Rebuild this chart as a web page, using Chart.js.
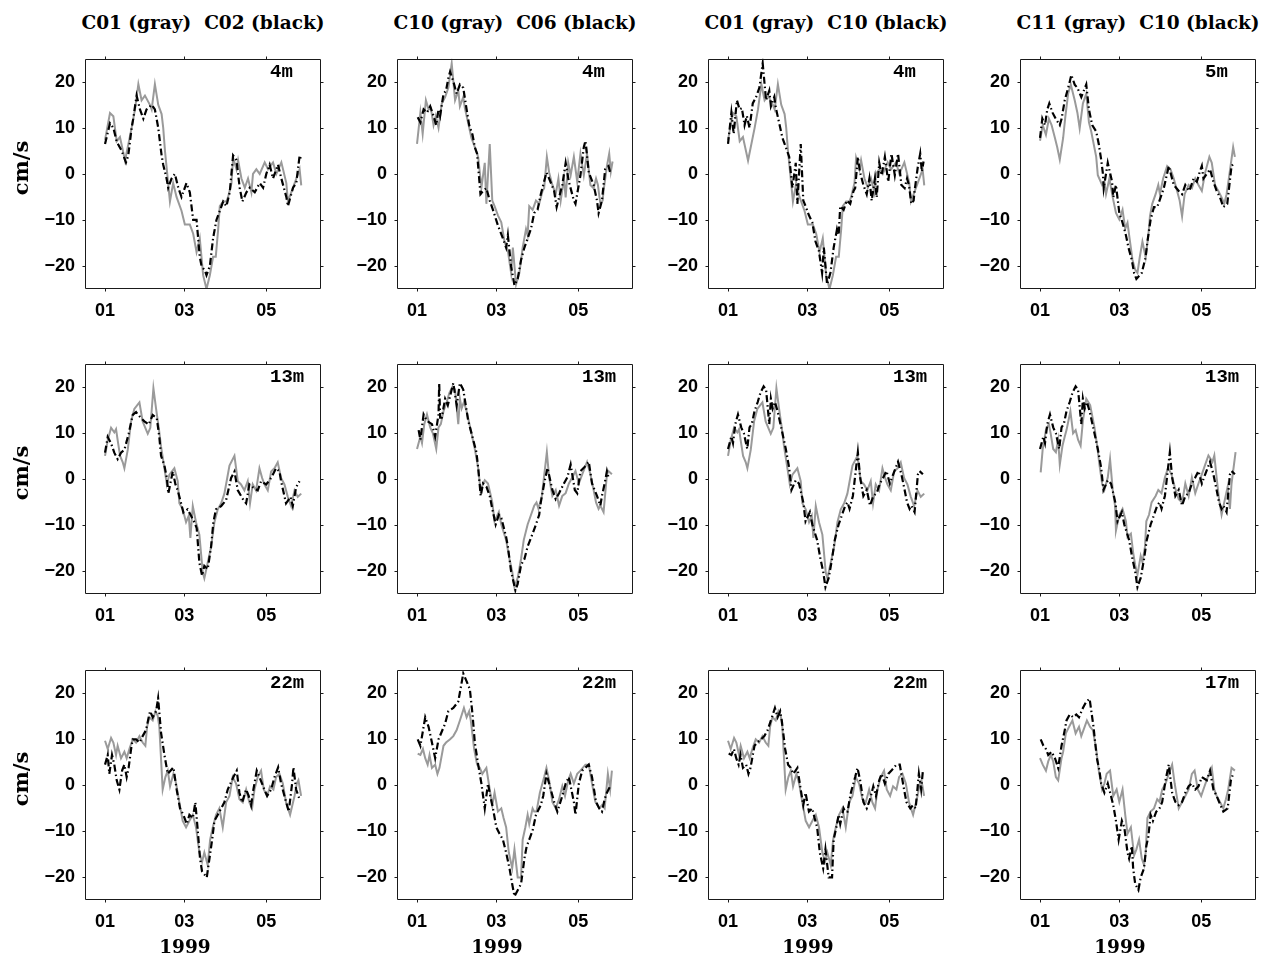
<!DOCTYPE html>
<html>
<head>
<meta charset="utf-8">
<script src="https://cdn.jsdelivr.net/npm/chart.js@4.4.1/dist/chart.umd.min.js"></script>
<style>
  html, body { margin: 0; padding: 0; background: #fff; }
  #page { position: relative; width: 1269px; height: 958px; overflow: hidden; background: #fff; }
  #page canvas { position: absolute; }
  .title { position: absolute; font: bold 18.5px "DejaVu Serif", serif; white-space: pre; transform: translate(-50%, -50%); color: #000; }
  .unit { position: absolute; font: bold 21px "DejaVu Serif", serif; transform: translate(-50%, -50%) rotate(-90deg); color: #000; white-space: pre; }
  .depth { position: absolute; font: bold 19px "Liberation Mono", "Courier New", monospace; transform: translateY(-50%); color: #000; }
  .year { position: absolute; font: bold 18.5px "DejaVu Serif", serif; transform: translate(-50%, -50%); color: #000; }
</style>
</head>
<body>
<div id="page"></div>
<script>
// Month ticks on the time axis (days after 1 Jan 1999)
const MONTH_TICKS = [0, 59, 120];
const MONTH_LABELS = ['01', '03', '05'];
// Velocity ticks (cm/s)
const Y_TICKS = [-20, -10, 0, 10, 20];

// Along-shore velocity records: sample day (after 1 Jan 1999) and value in cm/s
// ---- 4-5 m ----
const c01_4m_day = [0,3.7,6.2,8.7,11.1,14.9,19.8,22.3,24.8,27.2,29.7,33.4,34.7,37.1,39.6,42.1,43.3,44.6,46.3,48.3,50.7,53.2,56.9,59.4,63.1,65.6,68.1,70.5,73,75.5,78,80.4,82.4,84.2,85.4,87.9,90.3,91.6,94.1,95.3,97.8,99,101.5,104,106.4,108.9,110.1,112.6,115.1,118.8,121.3,125,127.5,131.2,134.9,136.1,138.6,141.1,143.6,144.8,146];
const c01_4m     = [7.4,13.2,12.5,7.1,8,2.9,10,14,19.5,16,17,15,14,19.5,15,13,10,5,0,-6,-2,-5,-8,-11,-11,-13,-17,-14,-22,-25,-22,-18,-18,-12,-7,-6,-6,-5,-2,3.5,1,3,-1,-3,-1,-4,0,1,0,2.5,1,2.5,0,2.5,-2,-6,-4,-2,0,1,-2.5];

const c02_4m_day = [0,3.7,6.2,8.7,12.4,15.6,17.3,19.8,21,23.5,26,28.5,30.9,34.7,37.1,39.6,42.1,43.3,45.8,47,49.5,52,54.5,56.9,60.6,63.1,65.6,68.1,70.5,71.8,74.3,75.5,78,80.4,82.9,85.4,87.9,90.3,92.8,95.3,97.8,100.2,102.2,105.2,107.7,111.4,115.1,117.6,120,122.5,125,128.7,131.2,134.9,136.1,139.9,142.3,144.8,146];
const c02_4m     = [6.5,11,10,7,5,2.5,4,10,12,17,14,12,14,15,14,10,4,2,-1,-3,-1,0,-3,-5,-2,-4,-10,-10,-18,-20,-21,-22,-20,-14,-10,-8,-6,-7,-4,4,3,-3,-6,-4,-3,-4,-2,-3,0,2,-1,2,-1,-5,-7,-3,-2,4,3];

const c10_4m_day = [0,2.5,4.2,6.6,8.6,10.3,12.3,14,16,18.4,20.9,23.3,25.8,28.3,30.7,31.9,34.4,35.6,38.1,40.5,43,45.5,47.9,50.4,51.6,54.1,56,57.7,60.2,62.7,65.1,67.6,70,71.3,73.7,76.2,78.6,81.1,82.3,83.5,86,88.5,90.9,93.4,94.6,96.6,98.3,100.7,103.2,105.2,106.9,109.3,110.6,112.5,114.3,116.7,119.2,121.6,124.1,126.5,129,131.4,133.2,134.6,136.4,138.1,138.8,141.3,143,144.2,145.5];
const c10_4m     = [6.5,13.3,8.7,16,14,14.3,10.6,12.6,10,15.3,16.7,18.7,24,16,18.1,14.7,16.7,14.3,11,7.8,5.8,3.7,-3,2.4,-6.5,6.5,-5.8,-7,-9,-10.5,-14.7,-16.7,-21.5,-16,-24,-21.5,-16,-12,-13.3,-7,-7.8,-5.8,-6.5,-3.7,-3.1,3.7,0.3,-2.4,-4.4,-1,-5.8,-1,-5.1,2.4,-0.3,3.7,-1.7,4.4,-0.3,4.4,-2.4,-3.1,-1,-2.4,-6.5,-5.8,-3.7,1.7,4.4,0.5,2.7];

const c06_4m_day = [0.5,2.5,4.9,7.4,9.8,12.3,14.3,16,17.2,19.7,21.6,23.3,24.6,27,29.5,31.9,34.4,36.9,38.8,41.3,43,44.7,47.2,49.1,51.6,54.1,56.5,60.2,63.9,66.3,67.6,70,72.5,74.9,77.4,79.9,82.3,84.8,87.2,89.7,92.1,93.9,96.3,98.3,102,103.9,105.7,108.1,110.6,113,116.7,117.9,121.6,124.1,125.3,127.8,131.4,133.9,135.1,137.6,138.8,140,142.5,143.7];
const c06_4m     = [12.3,11.2,14,13.3,14.7,12.6,10.6,14,12.6,17.4,18.1,20.8,22.2,20.1,17.4,19.4,18.7,14,10.6,8.5,5.8,4.4,-4.4,-3.7,-3.1,-5.8,-7.8,-11.2,-14,-16,-13.3,-20.1,-24.2,-22.8,-18.7,-16,-14,-11.9,-8.5,-7.8,-4.4,-2.4,0.3,-1,-3.7,-7.2,-5.1,-2.4,2.4,-1.7,-5.8,-6.5,-0.3,5.8,7.2,0.3,-2.4,-5.8,-8.5,-5.8,-2.4,1,1.7,0.3];

const c11_5m_day = [0,2,4.4,6.6,8.6,11.1,12.8,14.7,17.2,18.9,20.9,22.9,25.8,27.8,29.5,31.9,34.4,36.4,38.1,41.8,43,46.2,47.9,49.1,51.6,54.1,56.5,59,61.4,63.4,65.1,66.3,68.8,70.8,72.5,74.2,76.2,78.6,80.6,81.8,83.5,86,88,89.2,91.6,94.6,97.1,99.5,102,103.9,105.7,107.6,110.6,113,115.5,117.9,120.4,122.9,126,127.8,130.2,132.7,135.1,137.1,138.8,140.5,143.7,145];
const c11_5m     = [7.2,10.6,8.5,12,10.6,7.8,5.8,3.1,7.8,12.6,17.4,19.4,16,13.3,9.9,15.3,17.4,11.2,9.2,3.7,-0.3,-2.4,-1.7,-4.4,-1,-5.1,-8.5,-9.9,-7.8,-11.9,-10.6,-13.3,-18.7,-20.8,-21.5,-18.1,-14.7,-18.1,-13.3,-9.2,-6.5,-4.4,-2.4,-4.4,-1,1.7,1,-1,-3.7,-5.8,-9.2,-4.4,-2.4,-3.1,-1,-2.4,-3.7,0.3,3.7,2.4,-2.4,-3.7,-5.1,-6.5,-4.4,-1,5.8,3.7];

const c10_5m_day = [0,1.7,3.7,5.4,6.9,9.3,11.8,14.7,16,18.4,21.6,23.3,25.8,27.8,30.7,34.4,36.4,38.8,41.8,43.7,45.5,46.7,47.4,50.4,53.6,54.5,56.5,59,61.4,63.9,65.8,68.3,70,71.7,75.7,78.6,79.9,82.3,84.8,87.2,88.9,92.1,95.8,99.5,103.2,105.7,108.1,111.1,114.3,116.7,118.7,120.4,121.6,124.8,126.5,129,131.4,133.9,136.4,139.3,142.5,144.5];
const c10_5m     = [7.8,12,10.6,14,15.3,13.3,11.9,10.6,11.9,16,19.4,21.5,19.4,18.7,16.7,19.4,14,10.6,9.2,6.5,3.1,0.3,-3.1,2.4,-1.7,-5.1,-2.4,-8.5,-10.6,-13.3,-16,-18.7,-21.5,-22.8,-21.5,-18.1,-14.7,-9.9,-7.2,-7.2,-5.8,-3.1,1.7,-2.4,-3.7,-4.4,-2.4,-3.7,-1,-1.7,0.3,1.7,-1,0.3,1,-1.7,-3.7,-5.1,-7.2,-6.5,1.7,2.4];

// ---- 13 m ----
const c01_13m_day = [0,2,4.5,6.9,8.2,9.4,11.2,13.2,14.4,16.9,19.4,21.8,25.6,28,31.8,33.7,36,38,40,41.7,44.2,46,47.9,51.6,54.1,55.3,57.8,60.3,62.3,63.5,65.3,67.7,70.2,72.7,73.9,76.4,78.9,81.4,83.9,86.4,88.8,92.6,96.3,98.8,101.2,103.7,106.2,107.9,109.9,112.4,114.9,116.9,118.6,121.1,123.6,126.1,128.5,131,133.5,136,138.5,141,143.4,146];
const c01_13m     = [5,8.4,11.1,10.1,10.8,8.4,5,3.6,2.3,6.3,12.5,15.2,16.6,12.5,9.8,11.1,19.7,15.2,11.1,7,2.3,-1.2,0.9,2.3,-0.5,-5.3,-6.6,-9.4,-8,-12.8,-5.9,-9.4,-12.1,-20.3,-21.6,-18.2,-14.8,-9.4,-6.6,-5.3,-3.2,2.9,5,-0.5,-1.2,-2.5,-0.5,-5.3,-1.2,-2.5,2.3,0.2,-1.2,-2.5,1.6,2.3,3.6,0.2,-1.2,-3.9,-5.9,-2.5,-3.9,-3.2];

const c02_13m_day = [0,2,4.5,6.9,9.4,11.9,14.4,17.6,20.6,23.1,26.8,29.3,32.5,35.5,38.5,40.4,41.7,44.2,46,47.1,50.4,52.4,54.1,56.6,58.3,61.5,64,66.5,68.2,70.2,72.2,73.9,76.4,78.9,80.6,82.6,86.4,90.1,93.8,96.3,98.8,103,105,107.4,109.9,113.6,116.1,119.9,123.6,127.3,129.8,131,134.7,138,139.7,142.2,144.7];
const c02_13m     = [5.7,9.1,7.7,5.7,4.3,5.7,6.3,9.8,13.9,14.5,13.2,12.5,11.8,13.9,13.2,9.1,5,2.9,0.2,-3.2,1.6,-1.2,-2.5,-5.3,-7.3,-6.6,-8,-9.4,-10.7,-18.2,-21,-18.9,-19.6,-14.8,-9.4,-6.6,-5.9,-4.6,0.2,1.6,-2.5,-4.6,-5.3,-1.2,-1.8,-2.5,-0.5,-1.2,0.2,2.3,1.6,-0.5,-5.3,-3.9,-5.9,-1.8,-0.5];

const c10_13m_day = [0,2.5,3.7,5.4,7.4,9.8,11.8,14.3,16,17.7,19.7,22.1,24.1,26.5,28.3,30.7,31.9,33.2,34.9,36.9,40.5,43,45.5,47.2,50.4,52.8,54.5,56,57.7,60.9,62.7,66.3,68.8,70.8,72.5,74.9,77.4,79.4,82.3,84,87.2,88.9,90.4,92.9,96.6,98.3,100.7,103.2,105.7,108.1,110.6,113,115.5,117.9,120.4,122.9,126.5,129,131.4,133.2,135.1,136.4,138.8,141.3,142.5,145];
const c10_13m     = [6.5,9.2,7.8,11.9,14,11.2,9.9,6.5,11.2,11.9,14.7,16.7,18.7,20.1,19.4,11.9,17.4,15.3,16.7,14.7,9.9,6.5,2.4,-2.4,-0.3,-1,-3.1,-5.1,-9.2,-7.2,-9.9,-13.3,-17.4,-20.1,-23.5,-21.5,-17.4,-13.3,-9.9,-8.5,-5.8,-5.1,-6.5,-3.7,5.8,0.3,-3.7,-2.4,-5.8,-3.7,-3.1,-1,0.3,1.7,-1,1,3.7,1,-2.4,-5.1,-6.5,-5.8,-7.2,1,1.7,1];

const c06_13m_day = [1.2,2.5,4.9,7.4,11.1,12.3,13.5,16,16.5,17.2,18.4,20.9,22.9,27,29.5,31.9,34.4,38.1,41.8,44.2,45.5,47.4,49.1,51.6,54.1,56,58.5,60.9,62.7,66.3,67.6,70,73.2,74.9,77.4,79.9,82.3,86,88.5,90.9,92.1,94.6,97.1,100.7,103.2,105.7,109.3,111.8,114.3,117.4,119.2,121.6,124.1,127.8,130.2,133.9,136.4,137.6,139.6,141.3,142.5];
const c06_13m     = [10.6,8.5,14,12.6,11.9,10.6,9.2,14,20.8,13.3,13.3,17.4,16,20.8,16,20.8,19.4,12.6,8.5,5.8,2.4,-3.7,-1,-1.7,-3.7,-6.5,-9.9,-7.8,-8.5,-12.6,-14.7,-20.1,-24.2,-22.8,-18.7,-17.4,-14.7,-11.9,-9.9,-7.8,-5.1,-1,2.4,-2.4,-4.4,-3.1,-1,0.3,3.1,-2.4,-3.1,1.7,2.4,3.7,-1,-3.7,-5.8,-3.7,-1,1.7,0.3];

const c11_13m_day = [0.5,2,4.4,6.6,7.9,9.8,11.8,13.5,14.7,16.7,18.4,19.7,22.6,24.6,26.5,28.3,30.2,31.9,34.4,37.3,40.5,42.5,44.2,46.2,47.9,50.4,52.1,54.1,55.8,56.5,59,61.4,63.9,65.1,67.6,69.3,70.8,72.5,74.9,76.2,78.1,79.1,81.1,83,86,88,90.4,92.9,95.3,97.8,100.2,103.2,105.7,108.1,110.6,113,115.5,117.9,120.4,122.9,125.3,128.3,129.7,131.4,133.2,135.1,137.6,139.6,141.3,142.5,145.5];
const c11_13m     = [1.4,6.5,10.6,11.9,9.9,6.5,5.8,8.5,3.1,7.2,9.2,10.6,14.7,9.9,10.6,8.5,7.2,12.6,17.4,16,11.2,7.2,3.1,-1,-2.4,0.3,4.3,-2.4,-5.8,-11.2,-7.8,-6.5,-9.2,-12.6,-11.9,-16,-18.7,-20.8,-16.7,-18.1,-14.7,-9.2,-7.8,-5.1,-3.7,-2.4,-3.1,0.3,2.4,1,-1.7,-4.4,-5.1,-1,-3.7,0.3,-3.1,-1,1,3.1,5.1,3.7,5.1,0.3,-4.4,-7.8,-4.4,-1.7,-6.5,-1,5.8];

// ---- 17-22 m ----
const c01_22m_day = [0,2,4.5,6.2,8.2,9.4,11.9,14.4,16.1,18.1,20.6,23.1,25.6,28,30,31.3,33,35.5,37.5,39.2,40.4,42.9,44.9,46.7,48.4,50.9,52.9,55.3,57.8,60.3,62.8,65.3,67.7,70.2,72.2,73.9,76.4,78.2,80.2,82.6,85.1,87.6,90.1,92.6,95,97.5,100,102.5,105,107.4,109.4,111.2,113.6,116.1,118.1,120.6,122.8,125.3,127.3,129.8,132.3,134.7,137.7,141,142.7,143.9,145.9];
const c01_22m     = [9.6,7.8,10.2,9.2,6.5,8.5,5.8,7.2,5.8,7.8,9.9,9.2,10.6,9.2,8.5,12.6,14.7,14,16,15,12.6,-1,1.7,3.1,-0.3,2.4,0.3,-3.8,-7.8,-9.2,-7.8,-6.5,-9.2,-14.7,-16.7,-14.7,-17.4,-11.9,-9.2,-6.5,-5.1,-9.2,-3.8,-2.4,1.7,0.3,-3.1,-3.8,-1,-3.8,-5.1,-1,1.7,3.1,-1,-2.4,-0.3,-1,1.7,2.4,0.3,-3.8,-6.5,-2.4,0.3,1,-2.4];

const c02_22m_day = [0,2,3.2,5.2,6.9,8.7,10.7,12.7,14.4,16.1,17.6,19.4,20.6,23.1,25.6,28,30.5,32.5,33.5,35.5,38,39.5,41.7,44.2,46.7,50.9,53.3,55.8,58.3,60.8,62.8,65.3,67.2,69,70.7,72.2,75.7,77.7,79.7,81.4,83.9,86.4,88.8,91.3,95.5,98,100,102,105,106.9,108.7,110.4,112.9,114.9,118.6,120.6,123.6,126.1,128.8,131,133.5,136.7,139.2,140.2,142.2,144.7];
const c02_22m     = [4.4,6.5,2.4,6.5,4.4,1,-1,3.1,4.4,1.7,3.8,7.8,9.9,9.9,9.2,10.6,11.9,14.7,16,14.7,16,18.8,11.3,6.5,2.4,3.8,-1,-5.1,-6.5,-8.5,-6.5,-7.2,-3.8,-9.9,-16,-18.8,-20.1,-16,-11.9,-7.8,-6.5,-5.1,-3.8,-1,1.7,3.1,-1.7,-3.8,-1,-2.4,-4.4,-1,3.1,1.7,-1,-2.4,-1,1.7,3.8,0.3,-2.4,-5.8,0.3,3.8,-1,-3.1];

const c10_22m_day = [0.5,2.5,4.4,6.1,7.9,9.3,11.1,13.5,15.2,16.7,19.7,21.6,24.6,27,29.5,31.9,34.9,36.9,38.8,40,42.5,44.7,46.7,48.6,51.6,54.1,56,57.7,60.2,62.7,64.4,66.3,68.3,70.8,72.5,74.9,77.4,78.6,80.6,82.3,83.5,86,87.2,88.9,91.4,94.6,96.3,98.3,100.7,103.2,105.7,108.1,110.1,112.5,114.3,116.7,119.2,121.6,125.3,127.8,130.2,132.7,135.6,137.6,139.6,142,143.7,145];
const c10_22m     = [6.8,6.5,7.8,5.8,4.4,6.5,3.7,4.4,2.4,3.7,8.5,9.2,9.9,10.6,11.9,14,16.7,14.7,16,14,7.8,4.4,3.7,2.4,3.7,-1,-4.4,-1.7,-5.8,-5.1,-7.2,-9.2,-14.7,-18.1,-14,-20.1,-20.1,-11.9,-9.2,-6.5,-8.5,-5.1,-5.8,-5.8,-1.7,1.7,3.7,1,-3.7,-5.1,-3.1,-0.3,-2.4,1,2.4,0.3,2.4,3.1,4.4,4.4,0.3,-3.7,-5.1,-4.4,-5.1,2.4,-1,3.1];

const c06_22m_day = [0.5,2.5,6.1,8.6,11.1,13.5,16,20.9,23.3,27,30.7,34.4,37.3,39.3,41.3,43,45.5,47.9,50.4,52.8,54.5,56.5,59,61.4,63.9,66.3,68.8,70.8,72.5,77.4,79.9,81.6,83.5,86,88.5,92.1,93.9,96.3,98.3,102,104.4,108.1,110.6,113,116.7,117.9,120.4,122.9,127.8,130.2,133.2,135.6,137.6,139.6,141.3,143.7];
const c06_22m     = [9.9,8.5,14.7,12.6,9.2,5.8,9.9,13.3,16,16.7,18.1,24.2,22.2,20.8,15.3,9.2,4.4,0.3,-5.1,0.3,-2.4,-5.1,-9.2,-10.6,-11.9,-14.7,-18.1,-21.5,-24.2,-21.5,-16,-13.3,-11.9,-9.9,-6.5,-4.4,-2.4,2.4,0.3,-3.7,-5.8,-2.4,0.3,1.7,-3.7,-6.5,0.3,3.1,4.4,1.7,-3.7,-5.1,-5.8,-3.1,-1.7,-0.3];

const c11_17m_day = [0,2,4.4,6.1,8.1,9.8,11.8,13.5,16,17.2,19.2,21.6,24.1,26.5,29,30.7,33.2,34.9,37.3,39.3,41.8,43.7,46.2,47.9,49.6,52.1,54.5,57,59,61.4,63.4,65.1,67.6,70,71.7,73.7,75.7,77.4,78.6,79.9,82.3,84.8,87.2,88.9,90.9,93.4,95.8,98.3,100.2,103.2,105.7,108.1,110.6,113,115,117.4,119.9,122.4,124.8,127.8,129.7,131.4,133.9,136.4,138.3,140,142.5,145];
const c11_17m     = [5.8,4.4,3.1,5.1,6.5,5.1,1.7,1,5.8,7.2,11.2,12.6,14,11.2,12.6,10.6,12.6,14,12.6,11.9,7.8,3.1,-1,0.3,2.4,3.1,-2.4,-1,-3.7,-1,-6.5,-10.6,-9.2,-15.3,-14,-11.9,-16,-17.4,-14.7,-7.2,-5.8,-5.1,-3.1,-3.7,-1,0.3,2.4,4.4,0.3,-5.1,-3.7,-2.4,-1,2.4,3.1,-1,-2.4,-0.3,1.7,3.7,-1,-2.4,-3.7,-5.1,-3.1,-1,3.7,3.1];

const c10_17m_day = [0.5,2.5,4.4,6.1,8.6,11.1,13.5,16,18.4,19.7,22.1,24.6,27,29,31.9,34.4,36.9,39.8,42.3,44.2,45.5,47.9,50.4,52.8,54.5,56.5,58.5,60.9,62.7,65.1,66.3,68.3,69.3,70.8,73.2,74.9,77.4,79.1,80.6,82.3,84,86.5,88.9,90.9,93.4,95.8,98.3,100.7,103.2,105.7,108.1,110.6,113,115.5,117.9,120.4,124.1,126.5,129,131.4,133.2,136.4,139.6,142,143.7];
const c10_17m     = [9.9,8.5,7.8,6.5,7.2,5.8,3.7,8.5,11.9,14,15.3,14.7,15.3,14.7,16.7,18.1,18.7,12.6,5.8,3.1,0.3,-1.7,0.3,-2.4,-4.4,-7.8,-11.9,-7.8,-9.2,-14.7,-16,-13.3,-18.1,-21.5,-22.8,-20.1,-18.1,-13.3,-11.2,-6.5,-7.8,-5.8,-5.1,-3.7,1,4.4,-1.7,-3.7,-4.4,-3.7,-1.7,-0.3,0.3,-1,-0.3,1.7,1,3.1,-1,-2.4,-3.7,-5.8,-5.1,1,2.4];

// Column headings: which mooring is drawn gray, which black
const COL_GRAY  = ['C01', 'C10', 'C01', 'C11'];
const COL_BLACK = ['C02', 'C06', 'C10', 'C10'];

// Panel contents, row by row: gray record, black record, depth label
const PANELS = [
  [[c01_4m_day, c01_4m, c02_4m_day, c02_4m, '4m'],
   [c10_4m_day, c10_4m, c06_4m_day, c06_4m, '4m'],
   [c01_4m_day, c01_4m, c10_4m_day, c10_4m, '4m'],
   [c11_5m_day, c11_5m, c10_5m_day, c10_5m, '5m']],
  [[c01_13m_day, c01_13m, c02_13m_day, c02_13m, '13m'],
   [c10_13m_day, c10_13m, c06_13m_day, c06_13m, '13m'],
   [c01_13m_day, c01_13m, c10_13m_day, c10_13m, '13m'],
   [c11_13m_day, c11_13m, c10_13m_day, c10_13m, '13m']],
  [[c01_22m_day, c01_22m, c02_22m_day, c02_22m, '22m'],
   [c10_22m_day, c10_22m, c06_22m_day, c06_22m, '22m'],
   [c01_22m_day, c01_22m, c10_22m_day, c10_22m, '22m'],
   [c11_17m_day, c11_17m, c10_17m_day, c10_17m, '17m']]
];

// Page geometry
const COL_LEFT = [85, 397, 708, 1020];
const ROW_TOP = [46, 351, 657];
const PLOT_W = 236, PLOT_H = 243;
const AXIS_W = 60, AXIS_H = 40, PAD = 8;
const X_MIN = -14.9, X_MAX = 160.7;

const page = document.getElementById('page');
const TICK_FONT = { family: '"Liberation Sans", Arial, Helvetica, sans-serif', size: 18, weight: 'bold' };

function addText(cls, text, x, y) {
  const d = document.createElement('div');
  d.className = cls;
  d.textContent = text;
  d.style.left = x + 'px';
  d.style.top = y + 'px';
  page.appendChild(d);
  return d;
}

// Box round the plot area plus short outward tick marks on all four sides
const framePlugin = {
  id: 'frame',
  afterDraw(chart) {
    const { ctx, chartArea: a, scales } = chart;
    const L = Math.round(a.left) + 0.5, R = Math.round(a.right) - 0.5;
    const T = Math.round(a.top) + 0.5, B = Math.round(a.bottom) - 0.5;
    ctx.save();
    ctx.strokeStyle = '#1a1a1a';
    ctx.lineWidth = 1;
    ctx.beginPath();
    ctx.rect(L, T, R - L, B - T);
    scales.x.ticks.forEach(t => {
      const px = Math.round(scales.x.getPixelForValue(t.value)) + 0.5;
      ctx.moveTo(px, T); ctx.lineTo(px, T - 3);
      ctx.moveTo(px, B); ctx.lineTo(px, B + 3);
    });
    scales.y.ticks.forEach(t => {
      const py = Math.round(scales.y.getPixelForValue(t.value)) + 0.5;
      ctx.moveTo(L, py); ctx.lineTo(L - 3, py);
      ctx.moveTo(R, py); ctx.lineTo(R + 3, py);
    });
    ctx.stroke();
    ctx.restore();
  }
};

function toPoints(days, values) {
  return days.map((d, i) => ({ x: d, y: values[i] }));
}

PANELS.forEach((row, r) => {
  row.forEach((panel, c) => {
    const [grayDay, gray, blackDay, black, depth] = panel;
    const canvas = document.createElement('canvas');
    canvas.width = AXIS_W + PLOT_W + PAD;
    canvas.height = PAD + PLOT_H + AXIS_H;
    canvas.style.left = (COL_LEFT[c] - AXIS_W) + 'px';
    canvas.style.top = (ROW_TOP[r] - PAD) + 'px';
    page.appendChild(canvas);

    new Chart(canvas, {
      type: 'line',
      data: {
        datasets: [
          { data: toPoints(blackDay, black), borderColor: '#000', borderWidth: 2.2, borderDash: [7, 3, 1.5, 3],
            borderCapStyle: 'butt', pointRadius: 0, tension: 0, fill: false, order: 0, clip: 0 },
          { data: toPoints(grayDay, gray), borderColor: '#9a9a9a', borderWidth: 2, pointRadius: 0,
            tension: 0, fill: false, order: 1, clip: 0 }
        ]
      },
      options: {
        responsive: false,
        animation: false,
        devicePixelRatio: 1,
        layout: { padding: { left: 0, top: PAD, right: PAD, bottom: 0 } },
        plugins: { legend: { display: false }, tooltip: { enabled: false } },
        scales: {
          x: {
            type: 'linear', min: X_MIN, max: X_MAX,
            grid: { display: false, drawTicks: false }, border: { display: false },
            afterBuildTicks: s => { s.ticks = MONTH_TICKS.map(v => ({ value: v })); },
            afterFit: s => { s.height = AXIS_H; },
            ticks: { autoSkip: false, maxRotation: 0, padding: 11, color: '#000', font: TICK_FONT,
                     callback: (v, i) => MONTH_LABELS[i] }
          },
          y: {
            type: 'linear', min: -25, max: 25,
            grid: { display: false, drawTicks: false }, border: { display: false },
            afterBuildTicks: s => { s.ticks = Y_TICKS.map(v => ({ value: v })); },
            afterFit: s => { s.width = AXIS_W; },
            ticks: { padding: 10, color: '#000', font: TICK_FONT,
                     callback: v => (v < 0 ? '\u2212' + Math.abs(v) : String(v)) }
          }
        }
      },
      plugins: [framePlugin]
    });

    addText('depth', depth, COL_LEFT[c] + 185, ROW_TOP[r] + 26);
  });
});

// Column headings and the year under each column
COL_LEFT.forEach((x, c) => {
  addText('title', COL_GRAY[c] + ' (gray)  ' + COL_BLACK[c] + ' (black)', x + PLOT_W / 2, 22);
  addText('year', '1999', x + 100, 946);
});

// Vertical axis unit, one per row
ROW_TOP.forEach(t => addText('unit', 'cm/s', 20, t + PLOT_H / 2));
</script>
</body>
</html>
